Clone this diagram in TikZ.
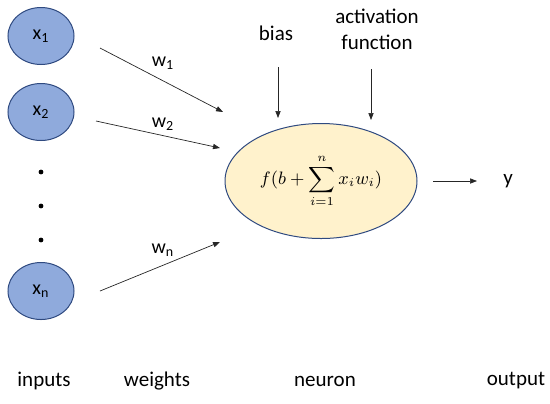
\documentclass[tikz,border=0pt]{standalone}
\usepackage{fontspec}
\setmainfont{Carlito}
\usepackage{amsmath}
\usetikzlibrary{arrows.meta, shapes.geometric}

\definecolor{inblue}{HTML}{8FAADC}
\definecolor{edgeblue}{HTML}{2F4A80}
\definecolor{cellyellow}{HTML}{FFF2CC}

\begin{document}
\begin{tikzpicture}[x=0.5pt, y=-0.5pt,
  input/.style={ellipse, draw=edgeblue, fill=inblue, line width=0.5pt,
    minimum width=33pt, minimum height=28.5pt, inner sep=0pt, font=\fontsize{10}{12}\selectfont},
  cell/.style={ellipse, draw=edgeblue, fill=cellyellow, line width=0.5pt,
    minimum width=96pt, minimum height=57.5pt, inner sep=0pt, font=\fontsize{8.6}{11}\selectfont},
  lbl/.style={font=\fontsize{10.5}{13}\selectfont, align=center},
  wlbl/.style={font=\fontsize{10}{12}\selectfont},
  conn/.style={-{Triangle[length=3.5pt,width=2.6pt]}, line width=0.35pt, draw=black!85}]

\useasboundingbox (0,0) rectangle (550,403);
\def\ey{181}

% inputs
\node[input] (x1) at (41,36) {x\textsubscript{1}};
\node[input] (x2) at (41,112) {x\textsubscript{2}};
\node[input] (xn) at (41,291) {x\textsubscript{n}};
\foreach \d in {172,206,240} {
  \fill (41,\d) circle (1.2pt);
}

% neuron
\node[cell] (cell) at (321,\ey) {$\displaystyle f(b+\sum_{i=1}^{n}x_iw_i)$};

% weighted inputs
\coordinate (s1) at (100,48);  \coordinate (e1) at (223,112);
\coordinate (s2) at (96,121);  \coordinate (e2) at (220,148);
\coordinate (sn) at (100,291); \coordinate (en) at (220,242);
\draw[conn] (s1) -- (e1);
\draw[conn] (s2) -- (e2);
\draw[conn] (sn) -- (en);
\node[wlbl] (w1) at (163,63) {w\textsubscript{1}};
\node[wlbl] (w2) at (163,124) {w\textsubscript{2}};
\node[wlbl] (wn) at (163,250) {w\textsubscript{n}};

% bias and activation
\node[lbl] (bias) at (276,33) {bias};
\node[lbl] (act) at (377,29) {activation\\function};
\coordinate (b0) at (278,67);  \coordinate (b1) at (278,118);
\coordinate (a0) at (371,69);  \coordinate (a1) at (371,120);
\draw[conn] (b0) -- (b1);
\draw[conn] (a0) -- (a1);

% output
\node[lbl] (y) at (508,\ey) {y};
\coordinate (o0) at (433,\ey);
\coordinate (o1) at (477,\ey);
\draw[conn] (o0) -- (o1);

% captions
\node[lbl] (cin) at (44,381) {inputs};
\node[lbl] (cw) at (157,381) {weights};
\node[lbl] (cn) at (325,381) {neuron};
\node[lbl] (co) at (516,381) {output};

\end{tikzpicture}
\end{document}
